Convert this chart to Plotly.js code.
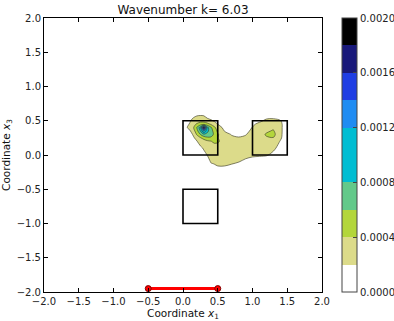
<!DOCTYPE html>
<html>
<head>
<meta charset="utf-8">
<script src="https://cdn.plot.ly/plotly-3.0.1.min.js"></script>
<style>html,body{margin:0;padding:0;background:#fff;}#plot{width:394px;height:321px;}</style>
</head>
<body>
<div id="plot"></div>
<script>
// ---- data (field values in units of 1e-4) ----
const zUnit = 1e-4;
const xCols = [-0.1,0,0.1,0.15,0.2,0.25,0.3,0.35,0.4,0.45,0.5,0.6,0.7,0.8,0.9,1.0,1.1,1.2,1.3,1.4,1.5,1.6];
const yRows = [-0.3,-0.2,-0.1,0,0.1,0.2,0.25,0.3,0.35,0.4,0.45,0.5,0.6,0.7];
const zRows = [
  [0,0,0,0,0,0,0,0,0,0,0,0,0,0,0,0,0,0,0,0,0,0],
  [0,0,0,0,0,0,0,0.6,1.3,1.6,1.8,1.8,1.6,1.1,0.6,0.3,0,0,0,0,0,0],
  [0,0,0,0,0,0,0.5,1.2,2.1,2.2,2.3,2.3,2.2,2.05,1.6,1.0,0.8,0.5,0.2,0,0,0],
  [0,0,0,0,0.2,0.8,1.5,2.05,2.5,2.6,2.6,2.6,2.6,2.5,2.5,2.4,2.3,2.2,1.5,0.4,0,0],
  [0,0,0,0.4,1.0,1.6,2.2,2.7,3.0,3.0,2.9,2.7,2.6,2.6,2.6,2.6,2.6,2.6,2.4,1.3,0.2,0],
  [0,0,0.2,0.9,1.9,2.8,3.0,3.6,3.9,4.4,4.3,3.0,2.5,2.4,2.5,2.7,2.9,3.0,3.2,1.9,0.5,0],
  [0,0,0.5,1.6,3.0,3.8,4.8,5.6,5.6,5.2,4.1,2.7,2.3,2.1,2.3,2.6,3.0,3.8,3.9,2.3,0.7,0],
  [0,0.3,0.9,2.4,4.2,6.0,7.6,7.4,7.0,5.6,4.2,2.6,1.9,1.7,1.9,2.6,3.2,4.2,4.6,2.4,0.8,0],
  [0,0.6,1.8,3.2,5.2,8.0,12.0,8.5,7.0,5.2,3.6,1.9,1.5,1.2,1.5,2.4,3.1,3.7,4.2,2.4,0.9,0],
  [0,1.0,2.6,3.8,6.2,9.0,19.0,8.8,6.4,4.5,3.0,1.4,0.8,0.6,1.0,2.1,3.0,3.3,3.6,2.4,0.9,0],
  [0,0.8,2.2,3.5,4.2,5.0,5.0,4.6,3.8,2.8,2.0,0.9,0.4,0.3,0.8,1.6,2.6,2.9,3.2,2.4,0.9,0],
  [0,0.5,1.8,2.8,3.2,3.3,3.3,2.8,2.3,1.8,1.5,0.8,0.3,0.2,0.4,0.8,1.5,2.5,2.6,2.1,1.0,0],
  [0,0,0.8,1.0,1.5,1.6,1.5,0.6,0.5,0.3,0.2,0,0,0,0,0,0.3,0.5,0.6,0.4,0,0],
  [0,0,0,0,0,0,0,0,0,0,0,0,0,0,0,0,0,0,0,0,0,0]
];
const levels = [0,0.0002,0.0004,0.0006,0.0008,0.0010,0.0012,0.0014,0.0016,0.0018,0.0020];
const bandColors = ['#ffffff','#dcdb8a','#b3d63b','#63c98a','#00bdd2','#00bdd2','#1f8cf2','#1f3ee3','#19197a','#000000'];
const cbTicks = [0,0.0004,0.0008,0.0012,0.0016,0.0020];

// scatterers (squares) : lower-left corners and side
const boxX = [0,1,0];
const boxY = [0,0,-1];
const boxSide = 0.5;

// source segment
const srcX = [-0.5,0.5];
const srcY = [-1.95,-1.95];

const titleText = 'Wavenumber k= 6.03';
const xTitle = 'Coordinate <i>x</i><sub>1</sub>';
const yTitle = 'Coordinate <i>x</i><sub>3</sub>';

// ---- build ----
const z = zRows.map(r => r.map(v => v * zUnit));
const nb = bandColors.length;
const contourScale = bandColors.map((c,i) => [i/(nb-1), c]);
const zMax = levels[levels.length-1];
const cbScale = [];
bandColors.forEach((c,i) => { cbScale.push([levels[i]/zMax, c]); cbScale.push([levels[i+1]/zMax, c]); });

const font = 'DejaVu Sans, Arial, sans-serif';

const traces = [
  {
    type:'contour', x:xCols, y:yRows, z:z,
    autocontour:false,
    contours:{start:levels[1], end:levels[levels.length-2], size:levels[1]-levels[0], coloring:'fill', showlines:true},
    line:{color:'rgba(60,60,40,0.9)', width:0.7, smoothing:1},
    colorscale:contourScale, showscale:false, hoverinfo:'skip'
  },
  {
    type:'scatter', x:srcX, y:srcY, mode:'lines+markers',
    line:{color:'#ff0000', width:3},
    marker:{color:'#ff0000', size:6, line:{color:'#800000', width:1}},
    cliponaxis:false, showlegend:false, hoverinfo:'skip'
  },
  {
    type:'scatter', x:[null], y:[null], mode:'markers', showlegend:false, hoverinfo:'skip',
    marker:{color:[0], cmin:0, cmax:zMax, colorscale:cbScale, showscale:true,
      colorbar:{x:1.072, xanchor:'left', xpad:0, y:0.5, yanchor:'middle', ypad:0, len:1, lenmode:'fraction',
        thickness:15, outlinecolor:'#444', outlinewidth:1,
        tickvals:cbTicks, tickformat:'.4f', ticks:'inside', ticklen:4, tickcolor:'#444',
        tickfont:{family:font, size:10, color:'#222'}}}
  }
];

const shapes = boxX.map((bx,i) => ({type:'rect', xref:'x', yref:'y', x0:bx, x1:bx+boxSide, y0:boxY[i], y1:boxY[i]+boxSide,
  line:{color:'#000', width:1.6}, fillcolor:'rgba(0,0,0,0)', layer:'above'}));

const axisCommon = {
  range:[-2,2], dtick:0.5, tick0:0, tickformat:'.1f', ticks:'inside', ticklen:4, tickcolor:'#000',
  showline:true, linecolor:'#000', linewidth:1, mirror:'allticks', showgrid:false, zeroline:false,
  tickfont:{family:font, size:10, color:'#222'}, automargin:false, fixedrange:true
};

const layout = {
  width:394, height:321,
  margin:{l:44, r:72, t:18, b:29, autoexpand:false},
  paper_bgcolor:'#fff', plot_bgcolor:'#fff',
  title:{text:titleText, font:{family:font, size:12, color:'#111'}, x:0.5, xref:'paper', y:0.968, yref:'container', yanchor:'middle'},
  xaxis:Object.assign({}, axisCommon, {title:{text:xTitle, font:{family:font, size:10.5, color:'#111'}, standoff:4}}),
  yaxis:Object.assign({}, axisCommon, {title:{text:yTitle, font:{family:font, size:10.5, color:'#111'}, standoff:6}}),
  shapes:shapes,
  showlegend:false
};

Plotly.newPlot('plot', traces, layout, {staticPlot:true, displayModeBar:false});
</script>
</body>
</html>
